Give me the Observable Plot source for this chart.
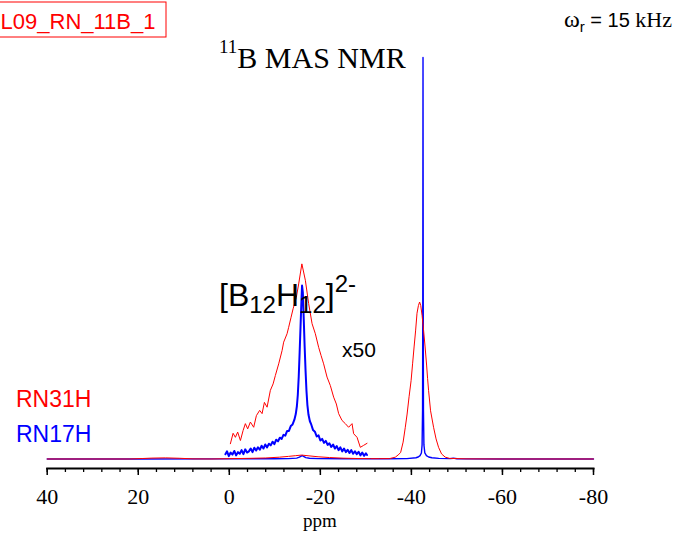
<!DOCTYPE html>
<html><head><meta charset="utf-8">
<script src="https://cdn.jsdelivr.net/npm/d3@7"></script>
<script src="https://cdn.jsdelivr.net/npm/@observablehq/plot@0.6"></script>
<style>html,body{margin:0;padding:0;background:#fff;} svg{display:block;overflow:visible}</style>
</head><body><div id="chart"></div>
<script>
// ---- data (ppm, intensity; blue main peak = 100) ----
const redPpm = [40, 30, 22, 19, 17, 14, 11, 8, 4, 0, -4, -8, -11, -13, -14.5, -15.9, -17.5, -19.5, -22, -25, -28, -31, -33, -35.21, -36.47, -37.08, -37.63, -38.18, -38.66, -39.06, -39.49, -39.93, -40.26, -40.59, -40.92, -41.23, -41.54, -41.8, -42.06, -42.35, -42.68, -43.01, -43.34, -43.56, -43.78, -44.21, -44.87, -45.42, -45.97, -46.63, -47.44, -48.39, -52, -60, -70, -80];
const redInt = [0, 0, 0, 0.12, 0.22, 0.28, 0.18, 0.03, 0, 0.08, 0.15, 0.25, 0.45, 0.65, 0.82, 0.97, 0.78, 0.55, 0.36, 0.2, 0.12, 0.08, 0.08, 0.1, 0.45, 1.0, 1.6, 4.2, 7.9, 11.2, 15.5, 19.5, 23.7, 27.9, 31.9, 36.3, 38.2, 39.1, 38.2, 35.7, 32.0, 27.9, 23.4, 20.0, 17.0, 12.0, 7.9, 5.0, 2.9, 1.25, 0.45, 0.15, 0.03, 0, 0, 0];

const bluePpm = [40, 20, 0, -10, -13, -14.8, -15.4, -15.8, -16.0, -16.3, -16.8, -17.6, -19.5, -25, -35, -39, -41.0, -41.5, -41.9, -42.2, -42.35, -42.45, -42.5, -42.55, -42.6, -42.65, -42.75, -42.95, -43.3, -43.8, -44.5, -46, -48.5, -49.2, -50, -60, -80];
const blueInt = [0, 0, 0.02, 0.06, 0.1, 0.22, 0.45, 0.72, 0.86, 0.62, 0.33, 0.18, 0.1, 0.05, 0.05, 0.1, 0.3, 0.5, 0.85, 1.5, 3.5, 12, 40, 100, 40, 12, 3.5, 1.5, 0.85, 0.5, 0.3, 0.15, 0.1, 0.2, 0.06, 0, 0];

// x50 expansions (0 to -30 ppm)
const red50Ppm = [-0.24, -0.83, -1.34, -1.84, -2.44, -3.03, -3.53, -4.04, -4.63, -5.36, -5.95, -6.67, -7.2, -7.71, -8.3, -9.02, -9.62, -10.12, -10.85, -11.59, -11.94, -12.69, -13.04, -13.57, -14.01, -14.73, -15.24, -15.94, -16.71, -17.43, -18.18, -18.9, -19.63, -20.15, -20.72, -21.47, -22.19, -22.92, -23.51, -24.02, -24.76, -25.49, -26.21, -26.96, -27.31, -28.06, -28.78, -29.51, -30.25];
const red50Int = [3.8, 6.4, 5.4, 6.7, 4.6, 7.1, 8.8, 7.5, 9.2, 7.9, 10.8, 12.1, 11.3, 14.1, 12.9, 17.1, 18.7, 20.8, 23.7, 27.0, 29.1, 31.2, 32.8, 35.3, 37.4, 40.3, 43.6, 48.6, 44.5, 38.7, 33.7, 31.2, 27.8, 25.8, 23.7, 20.4, 18.3, 15.4, 13.7, 11.3, 9.6, 8.8, 7.9, 8.8, 6.3, 5.4, 2.9, 3.4, 3.9];

const blue50Ppm = [0.86, 0.5, 0.1, -0.3, -0.7, -1.1, -1.5, -1.9, -2.3, -2.7, -3.1, -3.5, -3.9, -4.3, -4.7, -5.1, -5.5, -5.9, -6.3, -6.7, -7.1, -7.5, -7.9, -8.3, -8.7, -9.1, -9.5, -9.9, -10.3, -10.7, -11.1, -11.5, -11.9, -12.3, -12.7, -13.1, -13.5, -13.9, -14.3, -14.6, -14.85, -15.05, -15.25, -15.45, -15.65, -15.85, -15.98, -16.15, -16.35, -16.55, -16.75, -16.95, -17.15, -17.4, -17.7, -18.0, -18.4, -18.8, -19.2, -19.6, -20.0, -20.4, -20.8, -21.2, -21.6, -22.0, -22.4, -22.8, -23.2, -23.6, -24.0, -24.4, -24.8, -25.2, -25.6, -26.0, -26.4, -26.8, -27.2, -27.6, -28.0, -28.4, -28.8, -29.2, -29.6, -30.0, -30.25];
const blue50Int = [1.2, 1.9, 0.7, 1.6, 1.1, 2.0, 0.9, 1.7, 1.3, 2.2, 1.2, 2.4, 1.6, 1.9, 2.6, 1.7, 2.8, 2.1, 2.9, 2.3, 3.3, 2.6, 3.6, 2.9, 3.8, 3.4, 4.3, 3.7, 4.8, 4.4, 5.3, 5.0, 6.0, 5.8, 7.0, 7.0, 8.2, 8.6, 9.8, 11.2, 13.2, 16, 20.5, 26.5, 33, 39.5, 43.2, 41.5, 35, 28, 22, 17, 13.5, 11, 9.4, 8.6, 7.2, 6.8, 5.6, 5.9, 4.6, 5.0, 4.0, 4.5, 3.5, 3.9, 3.0, 3.6, 2.6, 3.2, 2.2, 2.9, 1.9, 2.6, 1.7, 2.3, 1.5, 2.2, 1.3, 1.9, 1.2, 1.8, 0.9, 1.6, 0.8, 1.4, 1.0];

const majorTicks = [40, 20, 0, -20, -40, -60, -80];
const minorTicks = d3.range(40, -80.1, -4);

const toRows = (xs, ys) => xs.map((x, i) => ({ppm: x, v: ys[i]}));
const red = toRows(redPpm, redInt), blue = toRows(bluePpm, blueInt);
const red50 = toRows(red50Ppm, red50Int), blue50 = toRows(blue50Ppm, blue50Int);

const RED = "#ff0000", BLUE = "#0000ff";
const serif = "'Liberation Serif','Times New Roman',serif";
const sans = "'Liberation Sans',Arial,sans-serif";

const plot = Plot.plot({
  width: 683, height: 533,
  marginLeft: 46.7, marginRight: 90, marginTop: 57, marginBottom: 65,
  style: {background: "white", color: "black", fontFamily: serif, overflow: "visible"},
  x: {domain: [40, -80], label: null},
  y: {domain: [-2.37, 100], axis: null},
  marks: [
    Plot.axisX(minorTicks, {tickSize: 4, strokeWidth: 1.3, tickFormat: () => ""}),
    Plot.axisX(majorTicks, {tickSize: 7, strokeWidth: 1.5, tickPadding: 13, fontSize: 22, fontFamily: serif, tickFormat: d => String(d)}),
    Plot.frame({anchor: "bottom", strokeWidth: 2}),
    Plot.line(blue, {x: "ppm", y: "v", stroke: BLUE, strokeWidth: 1.4}),
    Plot.line(red, {x: "ppm", y: "v", stroke: RED, strokeWidth: 1}),
    Plot.line(blue50, {x: "ppm", y: "v", stroke: BLUE, strokeWidth: 2}),
    Plot.line(red50, {x: "ppm", y: "v", stroke: RED, strokeWidth: 1})
  ]
});
document.getElementById("chart").appendChild(plot);

// ---- annotations ----
const svg = d3.select(plot);
function rich(x, y, parts, opts = {}) {
  const t = svg.append("text").attr("x", x).attr("y", y)
    .attr("fill", opts.fill || "black").attr("font-family", opts.family || sans)
    .attr("font-size", opts.size || 20).attr("text-anchor", opts.anchor || "start");
  parts.forEach(p => {
    const s = t.append("tspan").text(p.t);
    if (p.size) s.attr("font-size", p.size);
    if (p.dy) s.attr("dy", p.dy);
    if (p.family) s.attr("font-family", p.family);
  });
  return t;
}
// sample id box
svg.append("rect").attr("x", -2).attr("y", 2).attr("width", 168).attr("height", 35)
  .attr("fill", "none").attr("stroke", RED).attr("stroke-width", 1);
rich(155.5, 29, [{t: "L09_RN_11B_1"}], {fill: RED, size: 22, anchor: "end"});
// spinning rate
rich(564, 27, [
  {t: "ω", family: serif, size: 24},
  {t: "r", size: 15, dy: 5},
  {t: " = 15", size: 20, dy: -5},
  {t: " kHz", family: serif, size: 22}
]);
// title
rich(219, 68, [
  {t: "11", size: 19, dy: -15},
  {t: "B MAS NMR", size: 30, dy: 15}
], {family: serif});
// compound label
rich(219, 306, [
  {t: "[B", size: 32},
  {t: "12", size: 24, dy: 7},
  {t: "H", size: 32, dy: -7},
  {t: "12", size: 24, dy: 7},
  {t: "]", size: 32, dy: -7},
  {t: "2-", size: 24, dy: -14}
]);
rich(342, 357, [{t: "x50"}], {size: 21});
rich(16, 407, [{t: "RN31H"}], {size: 23, fill: RED});
rich(16, 442, [{t: "RN17H"}], {size: 23, fill: BLUE});
rich(320, 527, [{t: "ppm"}], {family: serif, size: 19, anchor: "middle"});
</script>
</body></html>
